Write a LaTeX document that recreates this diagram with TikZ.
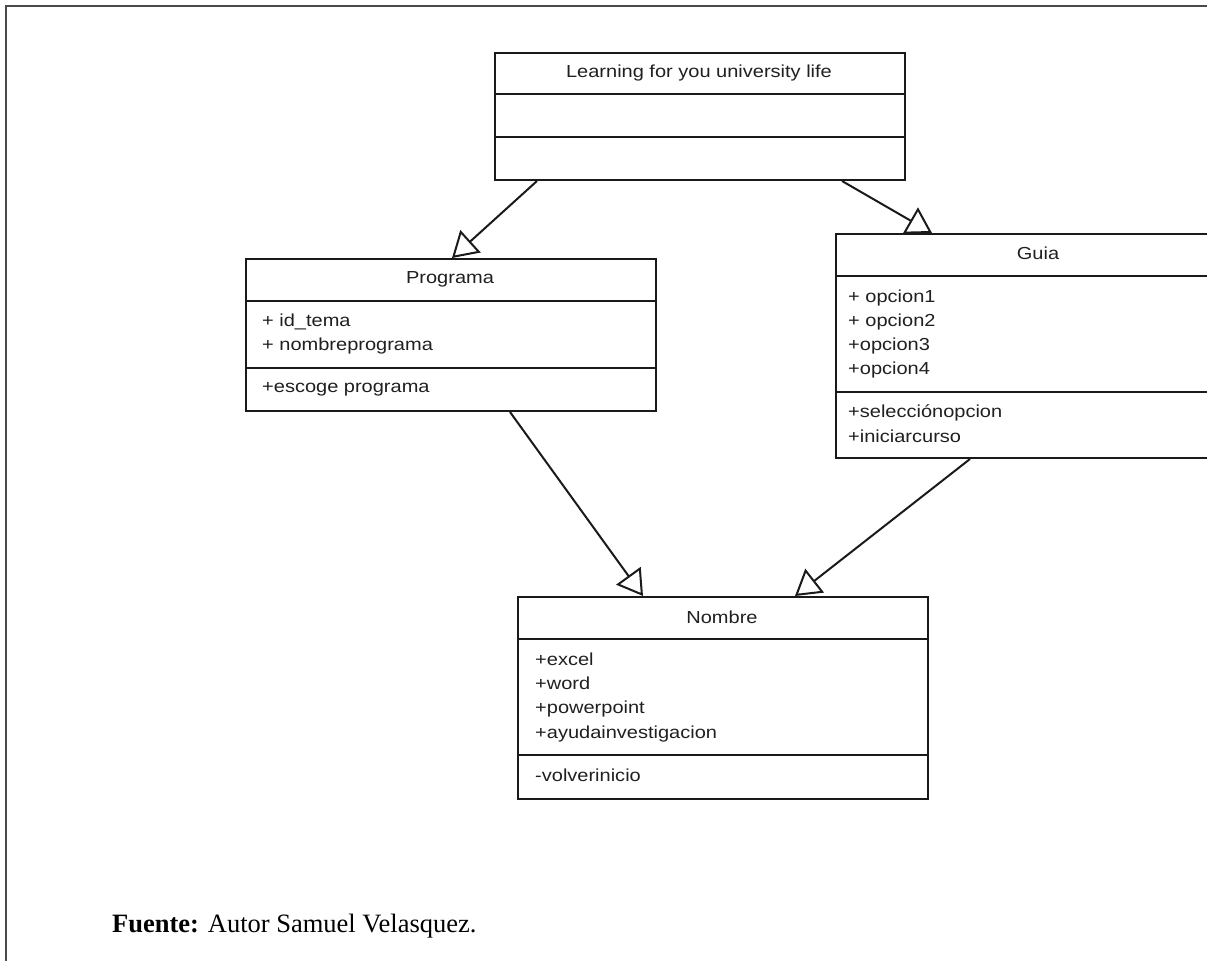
\documentclass[tikz,border=0pt]{standalone}
\usepackage{fontspec}
\setmainfont{Liberation Serif}
\newfontfamily\umlfont{Liberation Sans}[FakeStretch=1.15]
\usetikzlibrary{arrows.meta}
\definecolor{linec}{HTML}{1A1A1A}
\definecolor{txtc}{HTML}{202020}
\definecolor{framec}{HTML}{4A4A4A}
\tikzset{
  umlbox/.style={draw=linec, line width=2pt, rectangle, inner sep=0pt,
    anchor=north west, fill=white},
  divider/.style={draw=linec, line width=2pt},
  umltext/.style={font=\umlfont\fontsize{17.4}{20}\selectfont, text=txtc,
    inner sep=0pt, anchor=base west},
  umltitle/.style={umltext, anchor=base},
  gen/.style={draw=linec, line width=2pt,
    -{Triangle[open, length=25pt, width=30pt]}},
  frame/.style={draw=framec, line width=1.8pt},
  caption/.style={font=\fontsize{26.5}{30}\selectfont, text=black,
    inner sep=0pt, anchor=base west}
}
\begin{document}
\begin{tikzpicture}[x=1pt, y=-1pt]
\useasboundingbox (0,0) rectangle (1207,961);
\clip (0,0) rectangle (1207,961);

% page frame
\draw[frame] (1207,6) -- (6,6) -- (6,961);

% class boxes
\node[umlbox, minimum width=410pt, minimum height=127pt] (learn) at (494,52) {};
\node[umlbox, minimum width=410pt, minimum height=152pt] (prog) at (245,258) {};
\node[umlbox, minimum width=406pt, minimum height=224pt] (guia) at (835,233) {};
\node[umlbox, minimum width=410pt, minimum height=202pt] (nomb) at (517,596) {};

% compartment dividers
\draw[divider] ([yshift=-42pt]learn.north west) -- ([yshift=-42pt]learn.north east);
\draw[divider] ([yshift=-85pt]learn.north west) -- ([yshift=-85pt]learn.north east);
\draw[divider] ([yshift=-43pt]prog.north west) -- ([yshift=-43pt]prog.north east);
\draw[divider] ([yshift=-110pt]prog.north west) -- ([yshift=-110pt]prog.north east);
\draw[divider] ([yshift=-43pt]guia.north west) -- ([yshift=-43pt]guia.north east);
\draw[divider] ([yshift=-159pt]guia.north west) -- ([yshift=-159pt]guia.north east);
\draw[divider] ([yshift=-43pt]nomb.north west) -- ([yshift=-43pt]nomb.north east);
\draw[divider] ([yshift=-159pt]nomb.north west) -- ([yshift=-159pt]nomb.north east);

% class names
\node[umltitle] (learnT) at (699,77) {Learning for you university life};
\node[umltitle] (progT) at (450,283) {Programa};
\node[umltitle] (guiaT) at (1038,259) {Guia};
\node[umltitle] (nombT) at (722,623) {Nombre};

% Programa members
\node[umltext] (p1) at (262,326) {+ id\_tema};
\node[umltext] (p2) at (262,350) {+ nombreprograma};
\node[umltext] (p3) at (262,392) {+escoge programa};

% Guia members
\node[umltext] (g1) at (848,302) {+ opcion1};
\node[umltext] (g2) at (848,326) {+ opcion2};
\node[umltext] (g3) at (848,350) {+opcion3};
\node[umltext] (g4) at (848,374) {+opcion4};
\node[umltext] (g5) at (848,417) {+selecciónopcion};
\node[umltext] (g6) at (848,442) {+iniciarcurso};

% Nombre members
\node[umltext] (n1) at (535,665) {+excel};
\node[umltext] (n2) at (535,689) {+word};
\node[umltext] (n3) at (535,713) {+powerpoint};
\node[umltext] (n4) at (535,738) {+ayudainvestigacion};
\node[umltext] (n5) at (535,781) {-volverinicio};

% connector end points on the box edges
\coordinate (a1s) at ([xshift=43pt]learn.south west);
\coordinate (a1e) at ([xshift=207pt]prog.north west);
\coordinate (a2s) at ([xshift=348pt]learn.south west);
\coordinate (a2e) at ([xshift=97pt]guia.north west);
\coordinate (a3s) at ([xshift=265pt]prog.south west);
\coordinate (a3e) at ([xshift=126pt]nomb.north west);
\coordinate (a4s) at ([xshift=135pt]guia.south west);
\coordinate (a4e) at ([xshift=278pt]nomb.north west);

% generalisations
\draw[gen] (a1s) -- (a1e);
\draw[gen] (a2s) -- (a2e);
\draw[gen] (a3s) -- (a3e);
\draw[gen] (a4s) -- (a4e);

% source line
\node[caption] (src) at (112,932) {\textbf{Fuente:} Autor Samuel Velasquez.};
\end{tikzpicture}
\end{document}
